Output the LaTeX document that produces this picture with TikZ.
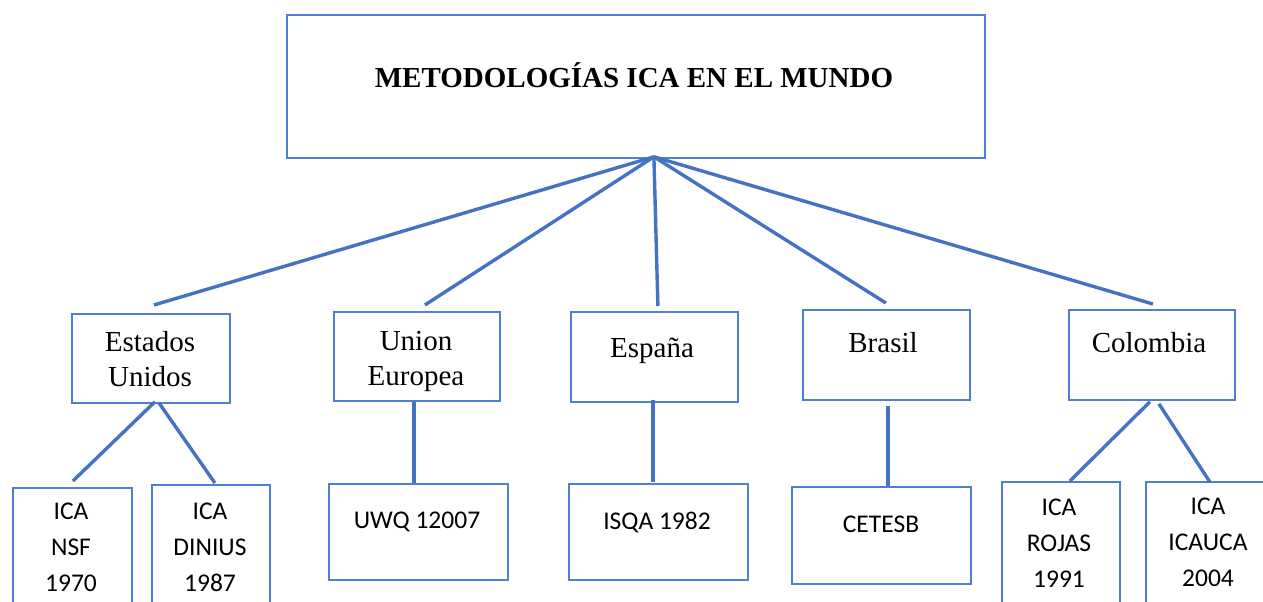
\documentclass[tikz,border=0pt]{standalone}
\usepackage{fontspec}
\setmainfont{Liberation Serif}
\newfontfamily\calib{Carlito}
\definecolor{lineblue}{HTML}{4472C4}
\definecolor{boxblue}{HTML}{4F7FD2}
\tikzset{
  box/.style={draw=boxblue, line width=1.8pt, inner sep=0pt, anchor=north west, fill=white},
  serif/.style={font=\fontsize{29}{35}\selectfont, align=center, inner sep=0pt},
  sans/.style={font=\calib\fontsize{25.5}{36}\selectfont, align=center, inner sep=0pt},
  conn/.style={draw=lineblue, line width=3.4pt},
}
\begin{document}
\begin{tikzpicture}[x=1pt,y=-1pt]
\clip (0,0) rectangle (1263,602);
\fill[white] (0,0) rectangle (1263,602);
% boxes
\node[box, minimum width=698pt, minimum height=143pt] (title) at (286,14) {};
\node[box, minimum width=158pt, minimum height=89pt] (eu) at (71,313) {};
\node[box, minimum width=166pt, minimum height=89pt] (ue) at (333,311) {};
\node[box, minimum width=167pt, minimum height=90pt] (es) at (570,311) {};
\node[box, minimum width=167pt, minimum height=90pt] (br) at (802,309) {};
\node[box, minimum width=166pt, minimum height=90pt] (co) at (1068,309) {};
\node[box, minimum width=119pt, minimum height=140pt] (nsf) at (12,487) {};
\node[box, minimum width=118pt, minimum height=140pt] (din) at (151,484) {};
\node[box, minimum width=179pt, minimum height=96pt] (uwq) at (328,483) {};
\node[box, minimum width=179pt, minimum height=96pt] (isqa) at (568,483) {};
\node[box, minimum width=179pt, minimum height=97pt] (cet) at (791,486) {};
\node[box, minimum width=118pt, minimum height=140pt] (roj) at (1001,481) {};
\node[box, minimum width=125pt, minimum height=140pt] (ica) at (1145,481) {};
% texts
\node[serif, anchor=base, font=\bfseries\fontsize{29}{35}\selectfont] (titlet) at (634,87) {METODOLOGÍAS ICA EN EL MUNDO};
\node[serif] (eut) at (150,358.6) {Estados\\Unidos};
\node[serif] (uet) at (416,361.6) {Union\\Europea};
\node[serif, anchor=base] (est) at (652,357) {España};
\node[serif, anchor=base] (brt) at (883,352) {Brasil};
\node[serif, anchor=base] (cot) at (1149,352) {Colombia};
\node[sans] (nsft) at (71,547.8) {ICA\\NSF\\1970};
\node[sans] (dint) at (210,547.8) {ICA\\DINIUS\\1987};
\node[sans, anchor=base] (uwqt) at (417,528) {UWQ 12007};
\node[sans, anchor=base] (isqat) at (657,529) {ISQA 1982};
\node[sans, anchor=base] (cett) at (881,532) {CETESB};
\node[sans] (rojt) at (1059,542.8) {ICA\\ROJAS\\1991};
\node[sans] (icat) at (1208,542.8) {ICA\\ICAUCA\\2004};
% connectors
\draw[conn] ([xshift=18pt,yshift=2pt]title.south) -- ([xshift=3pt,yshift=8pt]eu.north);
\draw[conn] ([xshift=18pt,yshift=2pt]title.south) -- ([xshift=8pt,yshift=6pt]ue.north);
\draw[conn] ([xshift=18pt,yshift=2pt]title.south) -- ([xshift=3.5pt,yshift=5pt]es.north);
\draw[conn] ([xshift=18pt,yshift=2pt]title.south) -- ([xshift=-0.5pt,yshift=6pt]br.north);
\draw[conn] ([xshift=18pt,yshift=2pt]title.south) -- ([xshift=1pt,yshift=5pt]co.north);
\draw[conn] ([xshift=4pt,yshift=2pt]eu.south) -- ([xshift=0.5pt,yshift=6pt]nsf.north);
\draw[conn] ([xshift=8pt,yshift=1pt]eu.south) -- ([xshift=4pt,yshift=1pt]din.north);
\draw[conn] ([xshift=-3pt]ue.south) -- ([xshift=-4.5pt]uwq.north);
\draw[conn] ([xshift=-1.5pt,yshift=3pt]es.south) -- ([xshift=-5.5pt,yshift=1pt]isqa.north);
\draw[conn] ([xshift=1.5pt,yshift=-5pt]br.south) -- ([xshift=6.5pt]cet.north);
\draw[conn] ([xshift=-2pt,yshift=-1pt]co.south) -- ([xshift=9pt]roj.north);
\draw[conn] ([xshift=7pt,yshift=-3pt]co.south) -- ([xshift=1.5pt,yshift=-1pt]ica.north);
\end{tikzpicture}
\end{document}
